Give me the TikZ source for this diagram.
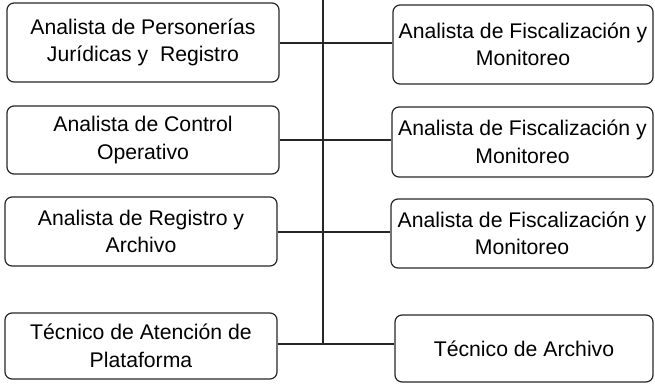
\documentclass[tikz,border=0pt]{standalone}
\usepackage{fontspec}
\setmainfont{Liberation Sans}
\begin{document}
\begin{tikzpicture}[x=1pt,y=-1pt,
  box/.style={draw=black!85, line width=1.2pt, rounded corners=7pt, align=center,
    inner sep=0pt, font=\fontsize{21.2}{27.5}\selectfont},
  conn/.style={draw=black!85, line width=1.2pt}]
\useasboundingbox (0,0) rectangle (655,383);
\node[box, minimum width=272pt, minimum height=79pt] (L1) at (143,42.5) {Analista de Personerías\\Jurídicas y~ Registro};
\node[box, minimum width=272pt, minimum height=68pt] (L2) at (143,140) {Analista de Control\\Operativo};
\node[box, minimum width=272pt, minimum height=69pt] (L3) at (141,231.5) {Analista de Registro y\\Archivo};
\node[box, minimum width=272pt, minimum height=66pt] (L4) at (141,346) {Técnico de Atención de\\Plataforma};
\node[box, minimum width=260pt, minimum height=79pt] (R1) at (523,44.5) {Analista de Fiscalización y\\Monitoreo};
\node[box, minimum width=261pt, minimum height=70pt] (R2) at (522.5,142) {Analista de Fiscalización y\\Monitoreo};
\node[box, minimum width=262pt, minimum height=69pt] (R3) at (522,233.5) {Analista de Fiscalización y\\Monitoreo};
\node[box, minimum width=258pt, minimum height=67pt] (R4) at (524,348.5) {Técnico de Archivo};
\coordinate (top) at (323,0);
\coordinate (j1) at (323,43);
\coordinate (j2) at (323,140);
\coordinate (j3) at (323,232);
\coordinate (j4) at (323,344);
\draw[conn] (top) -- (j4);
\draw[conn] (j1 -| L1.east) -- (j1) -- (j1 -| R1.west);
\draw[conn] (j2 -| L2.east) -- (j2) -- (j2 -| R2.west);
\draw[conn] (j3 -| L3.east) -- (j3) -- (j3 -| R3.west);
\draw[conn] (j4 -| L4.east) -- (j4) -- (j4 -| R4.west);
\end{tikzpicture}
\end{document}
